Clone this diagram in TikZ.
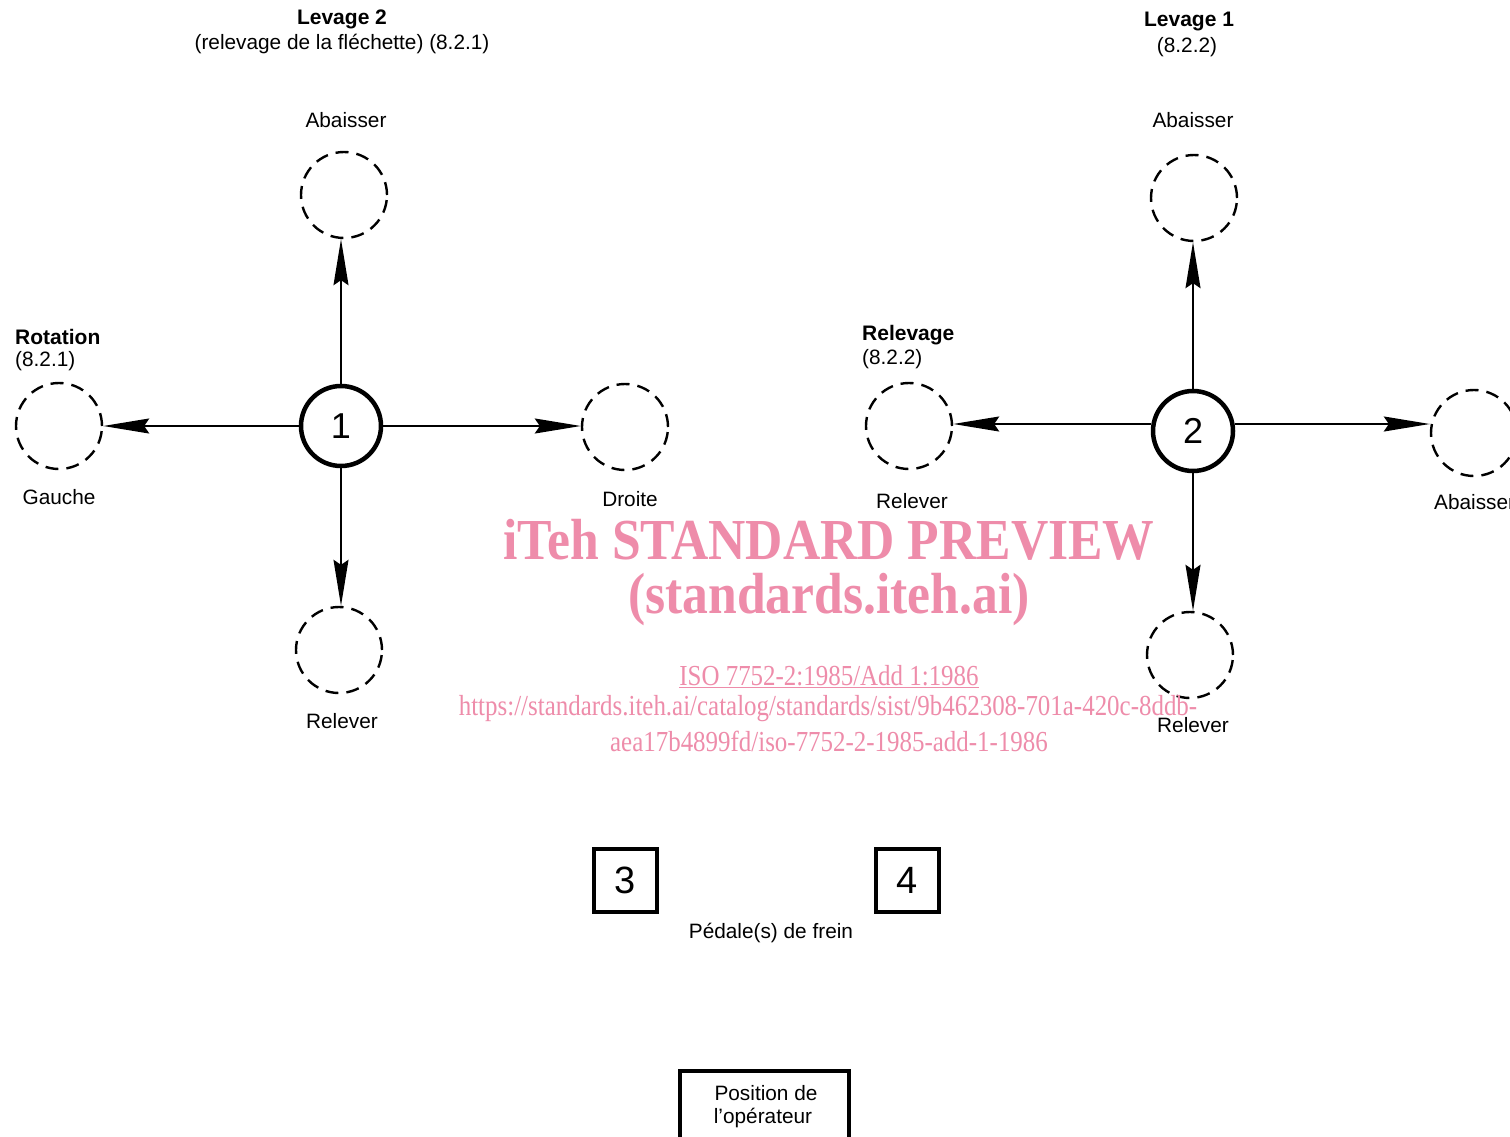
\documentclass[tikz,border=0pt]{standalone}
\usepackage{fontspec}
\setmainfont{Liberation Sans}
\newfontfamily\wmfont[FakeStretch=0.89]{Liberation Serif}
\newfontfamily\wmfontb[FakeStretch=0.86]{Liberation Serif}
\usetikzlibrary{arrows.meta}
\definecolor{wmpink}{RGB}{238,140,170}
\begin{document}
\begin{tikzpicture}[x=1pt,y=-1pt,
  lab/.style={font=\fontsize{20.8}{24}\selectfont, inner sep=0},
  blab/.style={font=\fontsize{21}{24}\selectfont\bfseries, inner sep=0},
  maincirc/.style={circle, draw, line width=4.5pt, minimum size=80pt, inner sep=0, font=\fontsize{36}{36}\selectfont},
  dcirc/.style={circle, draw, line width=2.4pt, dash pattern=on 13pt off 8pt, minimum size=86pt, inner sep=0},
  arr/.style={line width=1.5pt, -{Stealth[length=46pt,width=15pt,inset=5pt]}},
  numbox/.style={draw, line width=4pt, minimum size=63pt, inner sep=0, font=\fontsize{38}{38}\selectfont},
  wm/.style={text=wmpink, inner sep=0}
]
\useasboundingbox (0,0) rectangle (1510,1137);
\clip (0,0) rectangle (1510,1137);
\fill[white] (0,0) rectangle (1510,1137);

% ---- Group 1 ----
\node[maincirc] (c1) at (341,426) {1};
\node[dcirc] (t1) at (344,195) {};
\node[dcirc] (l1) at (59,426) {};
\node[dcirc] (r1) at (625,427) {};
\node[dcirc] (b1) at (339,650) {};
\draw[arr] (c1.north) -- (c1.north |- t1.south);
\draw[arr] (c1.west) -- (l1.east |- c1.west);
\draw[arr] (c1.east) -- (r1.west |- c1.east);
\draw[arr] (c1.south) -- (c1.south |- b1.north);

\node[blab] (lev2) at (342,19) {Levage 2};
\node[lab] (lev2b) at (342,44) {(relevage de la fléchette) (8.2.1)};
\node[lab] (ab1) at (346,120) {Abaisser};
\node[blab, anchor=west] (rot) at (15,337) {Rotation};
\node[lab, anchor=west] (rotb) at (15,361) {(8.2.1)};
\node[lab] (gau) at (59,497) {Gauche};
\node[lab] (dro) at (630,499) {Droite};
\node[lab] (rel1) at (342,721) {Relever};

% ---- Group 2 ----
\node[maincirc] (c2) at (1193,431) {2};
\node[dcirc] (t2) at (1194,198) {};
\node[dcirc] (l2) at (909,426) {};
\node[dcirc] (r2) at (1474,433) {};
\node[dcirc] (b2) at (1190,655) {};
\draw[arr] (c2.north) -- (c2.north |- t2.south);
\draw[arr] (c2.west |- 0,424) -- (l2.east |- 0,424);
\draw[arr] (c2.east |- 0,424) -- (r2.west |- 0,424);
\draw[arr] (c2.south) -- (c2.south |- b2.north);

\node[blab] (lev1) at (1189,22) {Levage 1};
\node[lab] (lev1b) at (1187,47) {(8.2.2)};
\node[lab] (ab2) at (1193,120) {Abaisser};
\node[blab, anchor=west] (relg) at (862,335) {Relevage};
\node[lab, anchor=west] (relgb) at (862,359) {(8.2.2)};
\node[lab] (rel2) at (912,501) {Relever};
\node[lab, anchor=west] (ab3) at (1434,502) {Abaisser};
\node[lab] (rel3) at (1193,725) {Relever};

% ---- Pedals ----
\node[numbox] (p3) at (625,880) {3};
\node[numbox] (p4) at (907,880) {4};
\node[lab] (ped) at (771,933) {Pédale(s) de frein};

% ---- Operator ----
\draw[line width=4pt] (680,1150) |- (849,1071) -- (849,1150);
\node[lab] (pos1) at (766,1093) {Position de};
\node[lab] (pos2) at (763,1118) {l’opérateur};

% ---- Watermark ----
\node[wm, font=\wmfont\fontsize{58}{58}\selectfont\bfseries] (w1) at (829,540) {iTeh STANDARD PREVIEW};
\node[wm, font=\wmfont\fontsize{58}{58}\selectfont\bfseries] (w2) at (829,600) {(standards.iteh.ai)};
\node[wm, font=\wmfontb\fontsize{29}{29}\selectfont] (w3) at (829,677) {\underline{ISO 7752-2:1985/Add 1:1986}};
\node[wm, font=\wmfontb\fontsize{29}{29}\selectfont] (w4) at (828,709) {https://standards.iteh.ai/catalog/standards/sist/9b462308-701a-420c-8ddb-};
\node[wm, font=\wmfontb\fontsize{29}{29}\selectfont] (w5) at (829,741) {aea17b4899fd/iso-7752-2-1985-add-1-1986};
\end{tikzpicture}
\end{document}
